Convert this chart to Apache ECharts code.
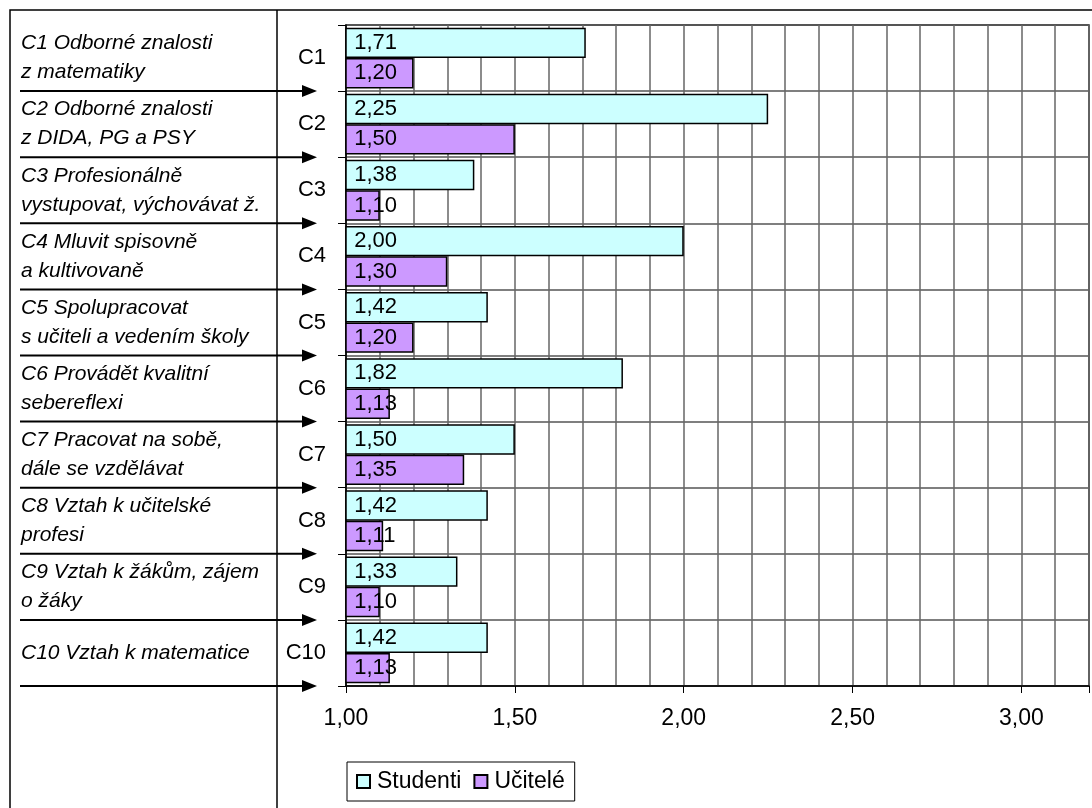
<!DOCTYPE html>
<html>
<head>
<meta charset="utf-8">
<script src="https://cdn.jsdelivr.net/npm/echarts@6/dist/echarts.min.js"></script>
<style>
  html, body { margin: 0; padding: 0; background: #fff; }
  #chart { width: 1092px; height: 808px; }
</style>
</head>
<body>
<div id="chart"></div>
<script>
// categories and long descriptions shown in the left panel
var categories = ["C1", "C2", "C3", "C4", "C5", "C6", "C7", "C8", "C9", "C10"];
var descriptions = [
  "C1 Odborné znalosti\nz matematiky",
  "C2 Odborné znalosti\nz DIDA, PG a PSY",
  "C3 Profesionálně\nvystupovat, výchovávat ž.",
  "C4 Mluvit spisovně\na kultivovaně",
  "C5 Spolupracovat\ns učiteli a vedením školy",
  "C6 Provádět kvalitní\nsebereflexi",
  "C7 Pracovat na sobě,\ndále se vzdělávat",
  "C8 Vztah k učitelské\nprofesi",
  "C9 Vztah k žákům, zájem\no žáky",
  "C10 Vztah k matematice"
];
var studenti = [1.71, 2.25, 1.38, 2.00, 1.42, 1.82, 1.50, 1.42, 1.33, 1.42];
var ucitele = [1.20, 1.50, 1.10, 1.30, 1.20, 1.13, 1.35, 1.11, 1.10, 1.13];
var seriesNames = ["Studenti", "Učitelé"];

var font = "Liberation Sans, Arial, sans-serif";
var myChart = echarts.init(document.getElementById("chart"));

function fmt(v) {
  return v.toFixed(2).replace(".", ",");
}

var option = {
  backgroundColor: "#ffffff",
  animation: false,
  textStyle: { fontFamily: font },
  grid: {
    left: 346,
    top: 25,
    right: 1,
    bottom: 122,
    show: true,
    borderColor: "#222",
    borderWidth: 1.5
  },
  legend: {
    data: seriesNames,
    icon: "rect",
    left: 347,
    top: 762,
    orient: "horizontal",
    borderColor: "#000",
    borderWidth: 1,
    padding: [8, 10, 8, 9],
    itemWidth: 13,
    itemHeight: 13,
    itemGap: 12,
    textStyle: { fontFamily: font, fontSize: 23, color: "#000", padding: [2, 0, 0, 2] }
  },
  xAxis: [
    {
      // fine grid every 0.1
      type: "value",
      min: 1,
      max: 3.2,
      interval: 0.1,
      axisLine: { show: true, lineStyle: { color: "#000", width: 1.5 } },
      axisTick: { show: false },
      axisLabel: { show: false },
      splitLine: { show: true, lineStyle: { color: "#666", width: 1.5 } }
    },
    {
      // labelled ticks every 0.5
      type: "value",
      position: "bottom",
      min: 1,
      max: 3.2,
      interval: 0.5,
      axisLine: { show: false },
      axisTick: { show: true, length: 7, lineStyle: { color: "#000", width: 1 } },
      splitLine: { show: false },
      axisLabel: {
        margin: 21,
        fontSize: 23,
        color: "#000",
        fontFamily: font,
        formatter: function (v) {
          if (Math.abs(v * 2 - Math.round(v * 2)) > 1e-6) return "";
          return fmt(v);
        }
      }
    }
  ],
  yAxis: [
    {
      type: "category",
      data: categories,
      inverse: true,
      axisLine: { show: true, lineStyle: { color: "#000", width: 1.5 } },
      axisTick: { show: true, length: 8, lineStyle: { color: "#000" } },
      splitLine: { show: true, lineStyle: { color: "#555", width: 1.5 } },
      axisLabel: {
        interval: 0,
        margin: 20,
        fontSize: 22,
        color: "#000",
        fontFamily: font,
        padding: [10, 0, 0, 0]
      }
    },
    {
      type: "category",
      data: descriptions,
      inverse: true,
      position: "left",
      offset: 325,
      axisLine: { show: false },
      axisTick: { show: false },
      splitLine: { show: false },
      axisLabel: {
        interval: 0,
        showMinLabel: true,
        showMaxLabel: true,
        hideOverlap: false,
        margin: 0,
        align: "left",
        fontSize: 21,
        fontStyle: "italic",
        lineHeight: 29,
        color: "#000",
        fontFamily: font,
        padding: [7, 0, 0, 0]
      }
    }
  ],
  series: [
    {
      name: seriesNames[0],
      type: "bar",
      data: studenti,
      barGap: "0%",
      barCategoryGap: "8%",
      itemStyle: { color: "#CCFFFF", borderColor: "#000", borderWidth: 1.5 },
      label: {
        show: true,
        position: "insideLeft",
        distance: 9,
        fontSize: 22,
        color: "#000",
        fontFamily: font,
        formatter: function (p) { return fmt(p.value); }
      }
    },
    {
      name: seriesNames[1],
      type: "bar",
      data: ucitele,
      itemStyle: { color: "#CC99FF", borderColor: "#000", borderWidth: 1.5 },
      label: {
        show: true,
        position: "insideLeft",
        distance: 9,
        fontSize: 22,
        color: "#000",
        fontFamily: font,
        formatter: function (p) { return fmt(p.value); }
      }
    }
  ]
};

myChart.setOption(option);

// frame of the whole table and the arrows pointing at category boundaries
var elements = [
  {
    type: "rect",
    shape: { x: 10, y: 10, width: 1100, height: 820 },
    style: { fill: null, stroke: "#000", lineWidth: 1.5 },
    z: 100
  },
  {
    type: "line",
    shape: { x1: 277, y1: 10, x2: 277, y2: 808 },
    style: { stroke: "#000", lineWidth: 1.5 },
    z: 100
  }
];

var y0 = myChart.convertToPixel({ yAxisIndex: 0 }, categories[0]);
var y1 = myChart.convertToPixel({ yAxisIndex: 0 }, categories[1]);
var band = y1 - y0;
for (var i = 0; i < categories.length; i++) {
  var b = myChart.convertToPixel({ yAxisIndex: 0 }, categories[i]) + band / 2;
  elements.push({
    type: "line",
    shape: { x1: 20, y1: b, x2: 306, y2: b },
    style: { stroke: "#000", lineWidth: 2 },
    z: 100
  });
  elements.push({
    type: "polygon",
    shape: { points: [[302, b - 6], [317, b], [302, b + 6]] },
    style: { fill: "#000" },
    z: 100
  });
}

myChart.setOption({ graphic: { elements: elements } });
</script>
</body>
</html>
